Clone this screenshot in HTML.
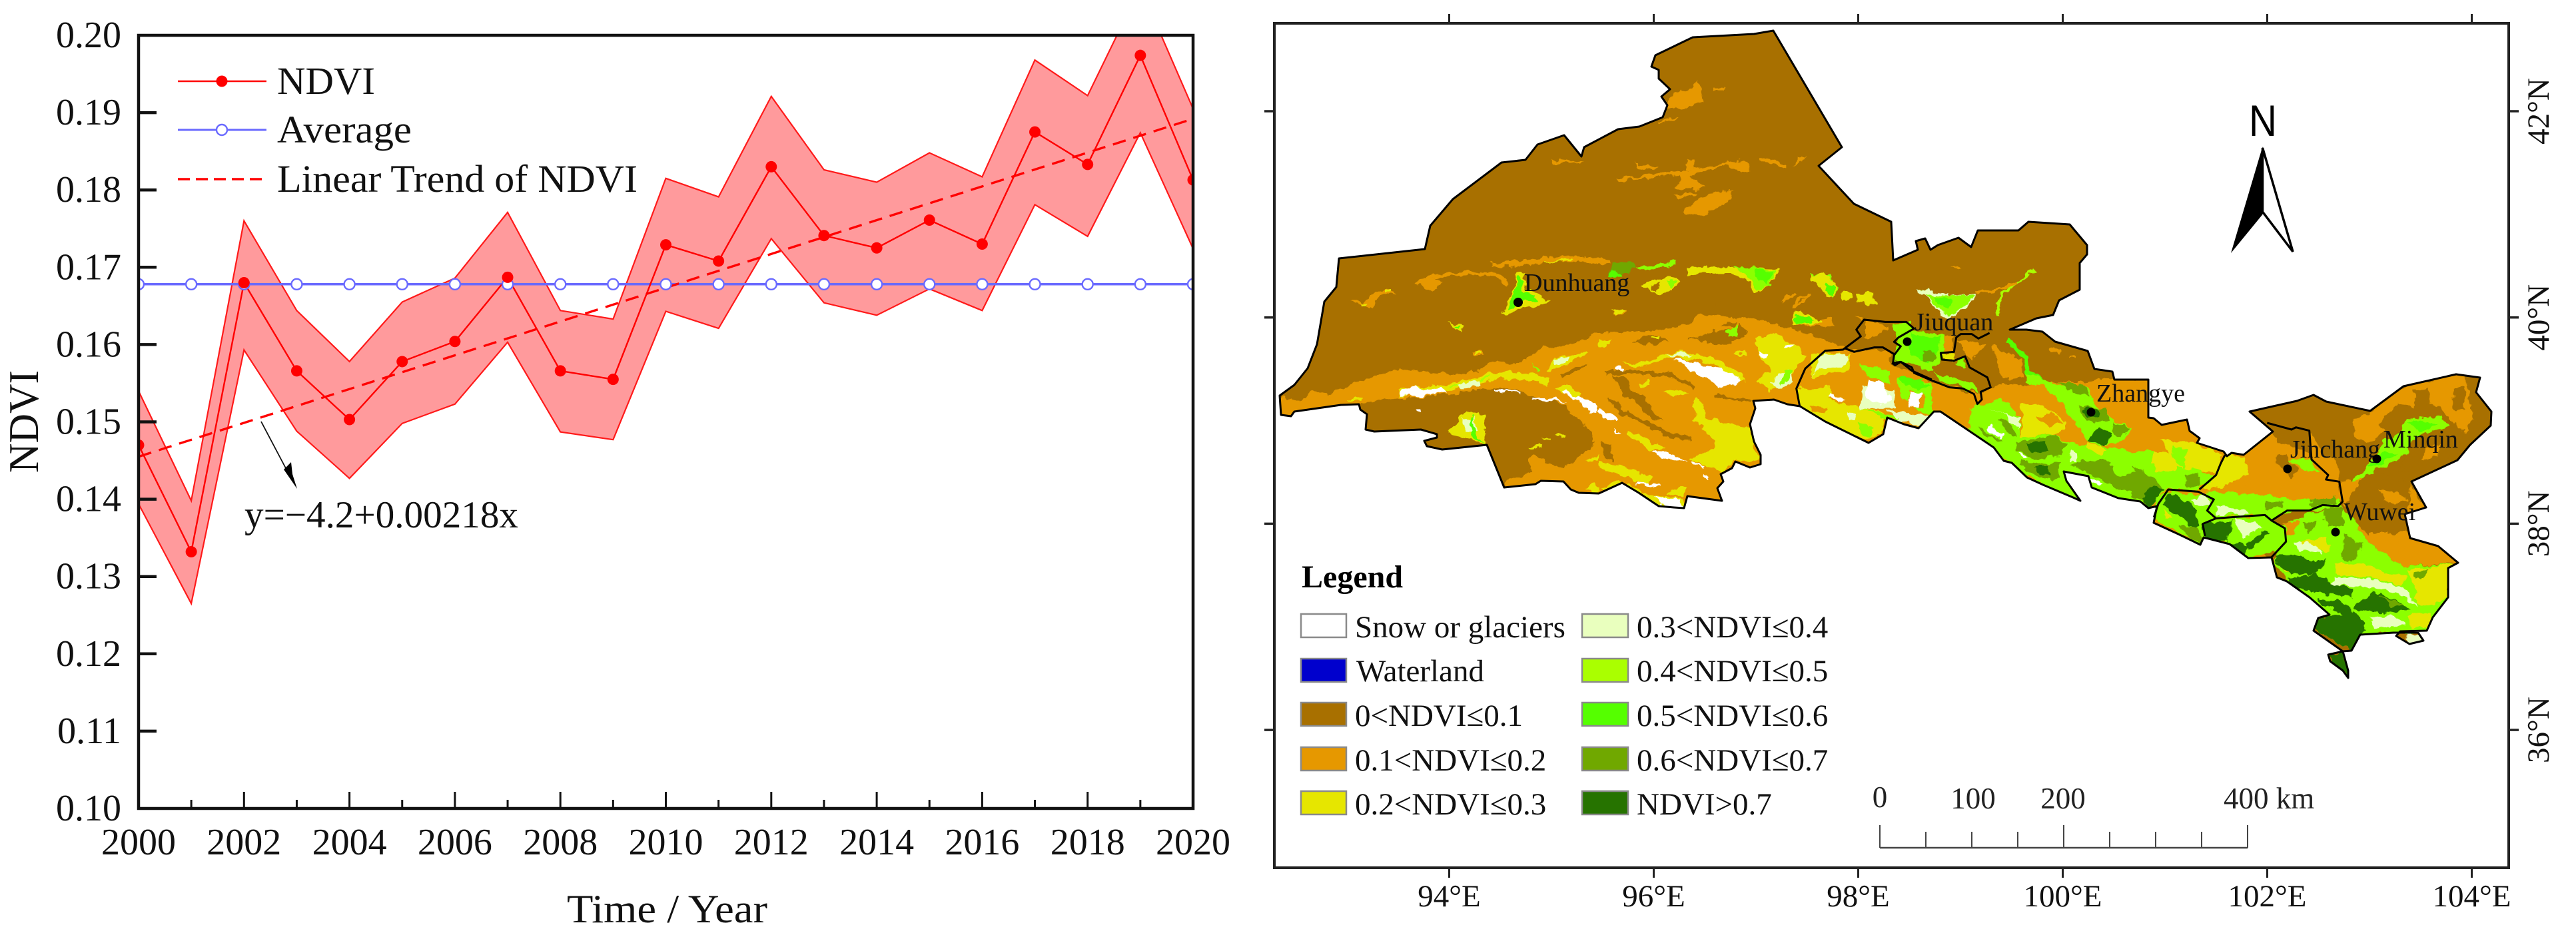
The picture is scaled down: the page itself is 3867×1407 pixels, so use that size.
<!DOCTYPE html>
<html lang="en">
<head>
<meta charset="utf-8">
<title>NDVI trend and map</title>
<style>
html,body{margin:0;padding:0;background:#fff;}
svg{display:block;}
text{font-family:"Liberation Serif",serif;fill:#111;}
.o{fill:#e69800}.b{fill:#a87000}.y{fill:#e6e600}.l{fill:#e9ffbe}.a{fill:#8cff00}.g{fill:#55ff00}.v{fill:#70a800}.d{fill:#267300}.w{fill:#fff}
.sb{fill:none;stroke:#a87000}.so{fill:none;stroke:#e69800}.sa{fill:none;stroke:#aaff00}.sy{fill:none;stroke:#e6e600}.sg{fill:none;stroke:#55ff00}
.bl{fill:none;stroke:#000;stroke-width:9;stroke-linejoin:round}
.mt{font-size:47px}
.lg{font-size:47px}
.city{font-size:38px}
.sc{font-size:45px;fill:#222}
</style>
</head>
<body>
<svg id="root" xmlns="http://www.w3.org/2000/svg" width="3867" height="1407" viewBox="0 0 3867 1407">
<defs>
<polygon id="region-outline" points="1921,594 1943,578 1963,553 1977,517 1988,453 2006,431 2010,388 2139,374 2147,339 2181,299 2254,244 2290,240 2308,217 2348,203 2374,235 2378,221 2429,194 2461,190 2496,176 2503,158 2494,145 2507,134 2490,118 2490,105 2479,100 2485,83 2541,56 2633,51 2662,46 2765,221 2730,249 2783,306 2839,333 2842,391 2879,375 2876,362 2890,358 2898,375 2909,368 2940,357 2959,371 2969,346 3030,346 3045,333 3107,337 3133,368 3133,382 3122,395 3122,435 3091,451 3082,473 3057,478 3017,495 3042,495 3066,498 3085,513 3134,527 3144,554 3171,558 3174,570 3225,570 3225,627 3233,628 3245,638 3283,630 3287,647 3302,658 3298,665 3338,678 3343,685 3350,680 3368,683 3412,648 3377,618 3448,602 3473,593 3492,603 3558,617 3608,580 3687,562 3723,567 3717,589 3740,618 3739,639 3708,668 3689,691 3620,723 3642,762 3610,772 3618,808 3660,820 3690,845 3675,853 3675,897 3652,927 3643,947 3603,948 3597,955 3617,967 3638,962 3630,950 3593,950 3543,953 3530,977 3517,978 3525,1007 3525,1018 3517,1007 3498,993 3495,983 3517,978 3473,947 3480,928 3497,923 3467,897 3433,873 3418,867 3410,837 3375,838 3347,817 3308,807 3303,818 3270,802 3233,785 3238,760 3225,763 3213,753 3180,748 3140,732 3135,715 3098,708 3102,722 3123,752 3112,747 3067,728 3043,717 3020,695 3008,692 2993,672 2953,645 2913,618 2903,618 2880,643 2858,637 2833,627 2827,652 2805,665 2740,633 2702,610 2683,607 2663,600 2632,602 2635,613 2627,637 2633,663 2643,683 2643,697 2627,702 2605,693 2600,703 2583,712 2587,723 2578,733 2585,752 2533,745 2528,763 2513,762 2490,760 2460,740 2435,725 2400,741 2370,740 2358,735 2347,723 2313,722 2305,727 2258,732 2232,668 2165,675 2142,670 2138,662 2157,657 2157,652 2133,645 2063,648 2050,645 2052,622 2042,615 2040,607 2013,608 1943,618 1938,625 1923,623"/>
<clipPath id="outline-clip"><use href="#region-outline"/></clipPath>
<clipPath id="plot-clip"><rect x="208" y="53" width="1583" height="1161"/></clipPath>
<filter id="rough" filterUnits="userSpaceOnUse" x="1900" y="0" width="1900" height="1100" color-interpolation-filters="sRGB">
<feTurbulence type="fractalNoise" baseFrequency="0.07" numOctaves="3" seed="4" result="n"/>
<feDisplacementMap in="SourceGraphic" in2="n" scale="13" xChannelSelector="R" yChannelSelector="G"/>
</filter>
</defs>

<!-- LEFT CHART -->
<g id="chart"></g>

<!-- MAP -->
<g>
<use href="#region-outline" fill="#a87000"/>
<g clip-path="url(#outline-clip)">
<g filter="url(#rough)">
<polygon class="o" points="1921,597 1953,602 1970,587 1993,592 2017,583 2043,572 2077,560 2107,555 2133,557 2183,563 2217,557 2247,542 2277,547 2300,533 2317,522 2360,517 2400,500 2447,497 2477,497 2533,488 2553,473 2633,478 2667,488 2690,495 2733,507 2767,522 2800,525 2820,522 2840,533 2837,547 2870,557 2903,573 2933,582 2967,592 2987,583 3003,577 3033,578 3087,573 3133,573 3173,567 3225,570 3300,650 3400,720 3400,1100 1900,1100 1900,700"/>

<g transform="translate(1900,0) scale(.6378,.4464)">
<polygon class="o" points="945,340 960,315 1000,300 1015,270 1025,310 1030,340 985,365 945,360"/>
<polygon class="o" points="1055,295 1085,295 1080,305 1055,305"/>
<polygon class="o" points="925,410 970,390 965,400 930,415"/>
<polygon class="o" points="670,535 745,545 740,550 680,545"/>
<polygon class="o" points="825,600 860,598 980,575 1085,548 1110,540 1140,550 1140,575 1110,580 1085,555 1000,590 1030,625 1010,640 960,630 975,590 860,605 830,610"/>
<polygon class="o" points="990,530 1010,535 1005,570 990,570"/>
<polygon class="o" points="870,545 925,565 915,572 875,560"/>
<polygon class="o" points="1165,530 1225,550 1225,565 1190,555 1165,540"/>
<polygon class="o" points="980,710 1020,670 1075,640 1100,640 1095,670 1050,710 1020,730 990,725"/>
<polygon class="o" points="965,655 1010,650 1005,660 970,665"/>
<polygon class="o" points="1250,530 1270,525 1245,560"/>
<polyline class="so" stroke-width="11" points="355,955 385,935 420,925 500,918 545,925 570,960"/>
<polyline class="so" stroke-width="16" points="530,890 620,885 670,870 730,870 810,880"/>
<polyline class="sy" stroke-width="5" points="650,885 720,870"/>
<polygon class="v" points="805,935 815,885 865,880 870,900 835,925"/>
<polygon class="a" points="870,900 970,880 965,890 890,915"/>
<polygon class="a" points="1285,920 1330,925 1345,970 1335,1000 1310,975 1290,945"/>
<polygon class="y" points="1355,990 1375,990 1365,1010"/>
<polygon class="y" points="1390,985 1425,985 1435,1020 1395,1020"/>
<polygon class="so" stroke-width="6" points="1240,1040 1260,1000 1285,990"/>
<polygon class="o" points="815,1040 850,1040 840,1058 820,1058"/>
<polygon class="o" points="1240,1090 1335,1075 1340,1100 1250,1095"/>
</g>

<g transform="translate(1900,400) scale(.33333)">
<polygon class="b" points="430,620 520,600 600,595 700,590 850,570 1000,548 1100,550 1200,580 1340,625 1400,680 1450,730 1490,790 1450,830 1390,870 1340,915 1280,880 1200,850 1180,860 1200,930 1150,955 1090,960 1075,1010 1000,900 700,900 400,800"/>
<polygon class="y" points="1065,215 1090,150 1125,100 1135,30 1160,30 1170,110 1225,120 1260,150 1290,155 1230,175 1160,180 1130,200 1085,215"/>
<polygon class="g" points="1085,190 1100,150 1130,105 1140,50 1155,50 1160,120 1210,130 1230,155 1150,165 1120,185"/>
<polygon class="o" points="380,155 440,165 500,110 550,95 590,125 530,120 470,180 400,170"/>
<polygon class="y" points="430,165 460,170 450,180 430,178"/>
<polygon class="y" points="540,100 565,100 565,115 540,112"/>
<polygon class="o" points="680,70 760,55 800,70 740,110 700,90"/>
<polygon class="y" points="820,255 890,265 885,300 860,280"/>
<polygon class="g" points="855,270 875,268 875,285"/>
<polygon class="o" points="930,390 965,380 985,405 945,405"/>
<polygon class="y" points="945,385 965,385 965,400 945,398"/>
<polygon class="y" points="370,605 430,590 430,605 375,612"/>
<polyline class="sy" stroke-width="32" points="600,570 700,560 820,545 900,530 1000,500 1100,490 1200,500 1270,520"/>
<polyline class="sa" stroke-width="9" points="830,540 930,525 1010,495"/>
<polygon class="l" points="860,535 950,510 960,535 880,555"/>
<polygon class="w" points="600,565 660,545 720,555 800,545 815,570 770,575 730,580 690,585 610,580"/>
<polygon class="w" points="1030,555 1100,555 1145,570 1150,580 1095,565 1030,560"/>
<polygon class="w" points="1200,590 1300,595 1350,615 1300,610 1200,600"/>
<polygon class="y" points="1290,540 1360,535 1420,570 1400,590 1340,570"/>
<polygon class="w" points="1340,560 1420,590 1490,620 1500,670 1470,660 1420,610 1350,575"/>
<polygon class="w" points="675,645 695,645 695,655 675,655"/>
<polygon class="y" points="820,750 905,650 990,680 985,800 880,770"/>
<polygon class="l" points="890,690 940,680 960,750 900,745"/>
<polygon class="g" points="920,670 935,670 950,770 985,795 930,775"/>
<polygon class="y" points="1180,820 1240,805 1245,815 1190,830"/>
<polygon class="y" points="1240,775 1285,780 1280,790 1240,785"/>
<polygon class="y" points="1310,755 1350,755 1345,770 1315,765"/>
<polygon class="y" points="1440,870 1500,850 1500,870 1450,880"/>
<polygon class="y" points="1260,470 1300,420 1440,385 1450,395 1340,450 1280,475"/>
<polygon class="l" points="1300,425 1370,405 1360,430 1300,445"/>
<polygon class="a" points="1200,430 1240,470 1225,470"/>
<polygon class="y" points="1440,1000 1480,975 1500,1010 1480,1020"/>
<polygon class="b" points="1330,490 1450,430 1440,450 1340,505"/>
</g>

<g transform="translate(2400,400) scale(.33333)">
<polygon class="y" points="400,0 820,10 760,100 700,120 680,70 600,30 470,30 400,40"/>
<polygon class="a" points="600,0 800,15 770,90 720,110 690,60"/>
<polygon class="g" points="700,15 790,20 760,85 720,60"/>
<polygon class="b" points="420,50 470,30 600,30 680,70 700,125 500,170 400,140"/>
<polygon class="v" points="50,40 70,0 160,0 130,25"/>
<polygon class="g" points="40,50 60,10 110,40 70,50"/>
<polygon class="y" points="190,80 250,60 330,50 360,70 330,110 270,125 210,100"/>
<polygon class="b" points="230,85 280,75 265,110 235,105"/>
<polygon class="a" points="310,70 345,70 330,100"/>
<polygon class="y" points="875,210 900,200 990,240 1000,255 930,265 875,265"/>
<polygon class="g" points="880,225 905,215 975,245 930,260 880,260"/>
<polygon class="o" points="820,155 880,115 890,125 830,165"/>
<polygon class="o" points="1150,230 1190,225 1185,250"/>
<polygon class="y" points="1100,120 1130,120 1140,150 1100,155"/>
<polygon class="y" points="1170,120 1230,120 1250,170 1200,170 1170,140"/>
<polygon class="g" points="1215,140 1240,145 1240,165 1222,165"/>
<polygon class="y" points="960,40 1010,30 1070,70 1060,130 1030,140 990,90 960,60"/>
<polygon class="g" points="1020,80 1060,80 1050,130 1020,110"/>
<polygon class="a" points="1430,105 1500,110 1500,170 1470,140"/>
<polygon class="y" points="60,190 120,195 100,215 70,215"/>

<polygon class="b" points="160,340 230,310 290,320 320,330 260,350 190,350"/>
<polygon class="b" points="400,320 490,310 520,290 620,290 630,260 670,290 640,320 580,350 490,350 440,320 400,325"/>
<polygon class="b" points="550,265 620,250 600,280"/>
<polygon class="a" points="570,300 620,265 625,315 590,315"/>
<polygon class="y" points="235,320 275,318 270,330 240,330"/>
<polygon class="y" points="0,335 60,330 50,355 0,355"/>
<polyline class="sb" stroke-width="18" points="30,480 130,475 330,490 430,550"/>
<polygon class="b" points="60,490 130,500 140,570 200,580 230,640 290,700 240,690 160,600 110,590 90,540"/>
<polyline class="sb" stroke-width="20" points="40,600 120,660 220,710 310,760 420,775"/>
<polyline class="sb" stroke-width="14" points="520,580 690,610"/>
<polygon class="b" points="10,790 60,800 60,880 20,860"/>

<polygon class="y" points="430,590 470,620 480,680 560,700 680,730 700,810 730,860 690,890 610,870 560,930 490,900 420,880 410,870 530,820 500,760 430,690"/>
<polygon class="y" points="100,430 170,440 300,400 390,380 480,410 560,430 640,480 660,520 620,510 520,440 420,420 340,410 230,440 160,460"/>
<polygon class="l" points="300,405 390,385 430,400 340,410"/>
<polygon class="w" points="340,420 400,420 470,450 530,450 640,510 620,530 550,540 540,550 480,500 400,460"/>
<polygon class="y" points="710,320 780,300 900,370 940,400 880,470 830,540 760,560 700,510 780,470 720,400"/>
<polygon class="l" points="770,520 860,460 880,520 800,550"/>
<polygon class="a" points="830,470 870,460 860,510 820,530"/>
<polygon class="w" points="720,385 770,390 760,410 725,405"/>
<polygon class="w" points="840,355 880,360 870,375 840,370"/>
<polygon class="y" points="290,560 380,560 400,575 320,580"/>
<polygon class="y" points="180,520 230,515 220,535 190,535"/>
<polygon class="y" points="620,380 660,380 675,400 640,410 610,400"/>
<polygon class="o" points="632,388 655,390 650,400 635,398"/>
<polygon class="w" points="70,455 105,455 105,470 70,465"/>
<polygon class="w" points="0,640 30,650 90,690 85,705 40,690 0,660"/>
<polygon class="w" points="70,735 100,745 95,750 70,745"/>
<polygon class="y" points="130,740 190,760 300,820 230,830 130,760"/>
<polygon class="y" points="0,880 100,900 170,930 240,950 220,990 130,950 30,910 0,900"/>
<polygon class="w" points="240,830 310,835 370,870 400,875 340,880 260,850"/>
<polygon class="w" points="415,880 480,905 470,910 410,885"/>
<polygon class="w" points="470,935 500,945 500,960 470,950"/>
<polygon class="w" points="170,975 270,980 270,990 170,985"/>
<polygon class="y" points="360,990 400,1000 380,1030 310,1030"/>
<polygon class="y" points="0,1000 100,970 250,1040 380,1040 390,1090 270,1080"/>
<polygon class="w" points="250,1045 370,1045 385,1085 280,1075"/>

<polygon class="y" points="890,550 1100,620 1200,640 1290,660 1280,740 1210,790 1010,700 900,630"/>
<polygon class="o" points="950,630 1030,640 1020,660 960,650"/>
<polygon class="l" points="1120,655 1160,660 1155,690 1125,690"/>
<polygon class="a" points="1170,710 1240,730 1220,780 1180,750"/>
<polygon class="y" points="960,400 1010,385 1140,400 1130,470 1060,480 970,500 945,480"/>
<polygon class="l" points="1010,390 1130,400 1130,430 1060,450 970,470 950,500"/>
<polygon class="y" points="920,560 1030,540 1060,590 1000,610"/>
<polygon class="a" points="1170,430 1300,470 1320,530 1280,530 1220,490 1170,450"/>
<polygon class="l" points="1180,540 1330,560 1340,640 1180,640"/>
<polygon class="w" points="1220,510 1280,530 1320,600 1270,620 1200,590"/>
<polygon class="w" points="1040,575 1110,600 1090,610 1040,590"/>
<polygon class="a" points="1340,500 1500,520 1500,660 1470,660 1370,600"/>
<polygon class="g" points="1350,500 1450,510 1500,540 1440,550 1380,540"/>
<polygon class="o" points="1400,560 1470,590 1460,640 1390,620"/>
<polygon class="w" points="1400,570 1450,570 1440,630 1390,640"/>
<polygon class="l" points="1300,650 1500,670 1440,720 1360,700"/>
<polygon class="a" points="1180,640 1310,670 1360,680 1290,690"/>
</g>

<g transform="translate(2800,400) scale(.33333)">
<polygon class="y" points="0,115 30,115 50,165 15,165 0,150"/>
<polygon class="l" points="225,105 300,110 380,130 500,125 440,200 360,235 270,140"/>
<polygon class="a" points="270,135 350,130 490,130 430,195 365,225"/>
<polygon class="g" points="310,140 400,140 380,200 350,190"/>
<polyline class="sa" stroke-width="12" points="595,220 605,140 650,90 770,15"/>
<polyline class="so" stroke-width="12" points="500,120 600,105 680,70"/>
<polygon class="o" points="380,0 430,10 410,25"/>
<polygon class="o" points="0,245 110,270 60,310 0,320"/>
<polygon class="a" points="130,260 200,250 220,290 360,310 350,390 330,440 310,470 260,470 210,440 130,430 140,330"/>
<polygon class="g" points="200,300 340,320 330,380 280,440 200,390"/>
<polygon class="v" points="260,380 310,385 310,430 260,430"/>
<polygon class="o" points="360,315 400,320 395,380 350,390"/>
<polygon class="y" points="340,390 400,390 405,425 345,420"/>
<polygon class="o" points="420,330 540,350 480,420 430,380"/>
<polygon class="o" points="580,360 700,420 710,500 620,510 600,450"/>
<polygon class="a" points="400,430 450,410 455,465 420,465"/>
<polygon class="b" points="310,445 400,435 460,470 550,500 565,545 490,520 400,500 320,470"/>
<polygon class="a" points="310,475 400,505 490,530 510,575 430,540 340,520"/>
<polyline class="sg" stroke-width="25" points="640,330 720,410 730,480 780,510 870,560 1000,600"/>
<polygon class="o" points="830,370 880,375 880,385 835,385"/>
<polygon class="o" points="905,405 945,400 945,412 905,412"/>
<polygon class="a" points="720,480 850,530 990,530 1040,620 1100,680 1200,730 1170,770 1090,800 1050,810 1000,780 940,700 890,620 820,550 730,520"/>
<polygon class="v" points="870,520 990,530 1010,590 950,570"/>
<polygon class="v" points="960,630 1080,640 1100,700 1000,700"/>
<polygon class="d" points="985,640 1050,640 1055,680 1000,680"/>
<polygon class="v" points="1120,700 1190,730 1150,770 1110,750"/>
<polygon class="d" points="1000,780 1060,730 1110,760 1080,810"/>
<polygon class="y" points="700,620 760,610 850,660 900,700 900,740 850,760 700,770"/>
<polygon class="o" points="770,680 840,660 890,700 830,720"/>
<polygon class="a" points="470,640 620,590 690,680 700,770 860,760 930,800 1050,810 1200,830 1300,830 1390,890 1500,860 1500,1010 1350,1000 1270,1100 1100,1050 1005,990 900,930 970,1060 800,990 650,890 470,750"/>
<polygon class="y" points="1000,790 1100,830 1060,850 1000,820"/>
<polygon class="y" points="1300,830 1390,850 1400,920 1300,920"/>
<polygon class="y" points="1380,790 1500,830 1500,900 1410,880"/>
<polygon class="g" points="1390,790 1430,820 1440,870 1400,860"/>
<polygon class="v" points="680,800 860,760 910,800 880,850 760,870 680,830"/>
<polygon class="d" points="730,800 810,790 830,830 750,840"/>
<polygon class="v" points="700,880 830,890 880,880 880,960 780,950 700,900"/>
<polygon class="d" points="760,900 830,900 840,940 780,930"/>
<polygon class="v" points="510,720 590,770 620,780 600,790 520,750"/>
<polygon class="v" points="600,690 660,700 680,770 640,760"/>
<polygon class="v" points="920,890 1050,870 1200,900 1300,960 1340,1000 1280,1090 1230,1040 1100,980 1000,930"/>
<polygon class="d" points="1280,990 1340,1000 1280,1090 1250,1050"/>
<polygon class="a" points="1100,880 1180,860 1220,930 1150,950"/>
<polygon class="l" points="540,640 690,680 690,730 620,660"/>
<polygon class="l" points="930,830 960,840 960,880 920,870"/>
<polygon class="w" points="560,710 620,760 610,775 550,730"/>
<polygon class="w" points="1010,950 1030,960 1070,980 1040,990"/>
<polygon class="w" points="690,840 730,860 710,870"/>
<polygon class="v" points="1450,940 1500,940 1500,1000 1460,990"/>
<polygon class="l" points="1380,960 1420,950 1420,1000 1370,1000"/>
</g>

<g transform="translate(3200,550) scale(.33333)">
<polygon class="y" points="130,330 300,350 410,400 380,480 280,470 200,450"/>
<polygon class="a" points="180,350 250,380 240,460 190,430"/>
<polygon class="a" points="180,480 300,470 400,510 300,550 170,550"/>
<polygon class="v" points="240,490 310,490 310,540 250,540"/>
<polygon class="o" points="420,395 600,300 640,300 810,300 930,500 940,600 700,620 550,590"/>
<polygon class="b" points="610,260 800,295 810,400 660,340"/>
<polygon class="b" points="650,400 700,400 750,480 710,500 650,440"/>
<polygon class="a" points="710,420 800,410 840,480 760,470"/>
<polygon class="y" points="430,400 510,410 530,470 500,510 400,540 320,560 380,480"/>
<polygon class="a" points="340,560 600,580 700,600 940,600 940,630 800,650 720,650 620,690 540,670 370,680 340,650"/>
<polygon class="l" points="380,630 500,640 520,665 380,665"/>
<polygon class="v" points="600,610 680,610 680,640 600,640"/>
<polygon class="v" points="810,600 920,590 920,620 810,630"/>

<polygon class="o" points="1000,240 1080,200 1225,90 1500,30 1540,240 1500,300 1440,240 1370,180 1280,120 1270,180 1190,170 1130,240 1100,290 1000,290"/>
<polygon class="b" points="1270,110 1340,100 1350,160 1290,170"/>
<polygon class="b" points="1450,100 1500,90 1500,200 1450,200"/>
<polygon class="o" points="1010,250 1090,220 1130,290 1060,350 1000,320"/>
<polygon class="o" points="810,420 920,410 930,500 880,490 840,440"/>
<polygon class="b" points="1260,340 1500,280 1480,380 1270,510 1210,470"/>
<polygon class="o" points="1320,370 1400,350 1360,420 1300,430"/>
<polygon class="a" points="1050,460 1100,400 1140,340 1220,290 1240,240 1390,225 1440,270 1360,290 1260,330 1240,400 1170,440 1090,470 1060,490 990,560 960,610 940,560"/>
<polygon class="g" points="1250,250 1320,240 1380,260 1300,300"/>
<polygon class="g" points="1060,450 1140,390 1200,390 1100,455"/>
<polygon class="o" points="940,520 1000,520 1040,510 990,580 960,620 935,600"/>

<polygon class="a" points="640,870 680,720 800,660 950,630 1020,720 1060,790 1140,850 1230,905 1450,890 1420,1040 1340,1190 1030,1210 990,1280 830,1190 890,1120 700,970"/>
<polygon class="o" points="1020,720 1240,740 1260,780 1380,810 1470,885 1230,905 1140,850 1060,790"/>
<polygon class="b" points="1000,620 1040,510 1110,480 1260,520 1320,630 1240,660 1240,750 1050,750 1020,690"/>
<polygon class="o" points="1120,560 1200,570 1240,610 1170,620 1130,600"/>
<polygon class="o" points="1260,530 1310,640 1250,660 1250,590"/>
<polygon class="o" points="680,710 750,700 740,750 690,760"/>
<polygon class="y" points="760,790 880,770 890,830 800,830"/>
<polygon class="y" points="920,880 1050,900 1240,950 1220,990 1080,950 920,940"/>
<polygon class="y" points="1240,920 1450,890 1420,1040 1370,1080 1280,1060 1280,1000"/>
<polygon class="v" points="1270,930 1340,910 1320,960 1280,960"/>
<polygon class="y" points="1250,1120 1340,1110 1340,1180 1260,1170"/>
<polygon class="y" points="680,890 740,880 720,930 690,930"/>
<polygon class="l" points="920,950 1100,960 1230,1000 1290,1080 1200,1020 1060,990 900,980"/>
<polygon class="l" points="1070,1130 1180,1120 1230,1170 1100,1180"/>
<polygon class="l" points="730,790 830,800 860,840 760,830"/>
<polygon class="d" points="640,850 730,850 820,880 880,870 840,930 720,940 650,880"/>
<polygon class="d" points="700,960 830,930 890,970 1000,1000 1000,1040 870,1030 760,1000"/>
<polygon class="d" points="1000,1080 1090,1020 1200,1060 1260,1100 1150,1110 1000,1100"/>
<polygon class="d" points="830,1140 900,1120 950,1120 830,1050 950,1060 1060,1160 1030,1210 990,1280 830,1190"/>
<polygon class="v" points="1120,1040 1220,1070 1170,1080"/>
<polygon class="v" points="860,640 950,630 950,720 880,720"/>
<polygon class="v" points="950,760 1040,800 1000,880 950,870"/>
<polygon class="v" points="770,700 840,700 820,740 790,750"/>
<polygon class="l" points="1230,1190 1290,1210 1310,1240 1250,1250"/>

<polygon class="a" points="110,590 180,560 360,590 370,690 320,810 100,690"/>
<polygon class="d" points="130,620 170,570 260,610 310,720 290,740 230,690"/>
<polygon class="v" points="220,720 300,730 320,800 250,770"/>
<polygon class="l" points="270,600 330,580 360,620 300,640"/>
<polygon class="y" points="130,650 190,680 160,690"/>
<polygon class="a" points="320,710 380,685 600,670 690,730 700,790 620,850 520,870 420,790 330,765"/>
<polygon class="d" points="320,705 450,700 430,790 330,770"/>
<polygon class="d" points="510,800 600,740 620,750 530,830"/>
<polygon class="d" points="430,790 520,810 510,865 450,830"/>
<polygon class="l" points="460,690 560,700 590,730 500,770"/>
<polygon class="d" points="885,1300 950,1285 970,1360 975,1405 900,1330"/>
<polygon class="l" points="1240,1210 1300,1220 1300,1240 1255,1250"/>
</g>
</g>
</g>

<!-- internal boundaries -->
<g>
<g transform="translate(2400,400) scale(.33333)">
<polyline class="bl" points="905,630 890,550 930,460 1020,380 1100,375 1180,315 1160,285 1195,240 1290,250 1385,250 1420,280 1350,320 1330,340 1360,360 1330,400 1325,435 1360,430 1410,470 1500,510"/>
<polyline class="bl" points="1110,370 1150,385 1240,365 1280,365 1330,395"/>
</g>
<g transform="translate(2800,400) scale(.33333)">
<polyline class="bl" points="120,435 135,445 160,430 210,455 220,480 290,510 380,545 440,550 490,575 505,620 525,600 520,565 565,545 550,500 470,455 450,405 400,425 345,420 340,390 400,385 410,320 430,305 480,305 510,325 560,300"/>
</g>
<g transform="translate(3200,550) scale(.33333)">
<polyline class="bl" points="305,555 380,490 400,440 420,400"/>
<polyline class="bl" points="100,680 120,620 165,555 300,565 370,600 340,650 380,685 320,710 330,765"/>
<polyline class="bl" points="380,685 520,675 600,670 630,695 700,650 800,650 860,625 930,630 950,610 935,520 875,510 885,490 810,420 800,290 740,275 720,285 610,255"/>
<polyline class="bl" points="630,695 690,730 695,790 630,860"/>
</g>
</g>
<use href="#region-outline" fill="none" stroke="#000" stroke-width="3" stroke-linejoin="round"/>

<!-- map frame -->
<rect x="1913" y="35" width="1853" height="1268" fill="none" stroke="#222" stroke-width="4"/>
<g id="map-ticks"></g>

<!-- cities -->
<g>
<circle cx="2279" cy="454" r="7" fill="#000"/>
<text class="city" x="2288" y="437">Dunhuang</text>
<circle cx="2863" cy="513" r="6.5" fill="#000"/>
<text class="city" x="2874" y="496">Jiuquan</text>
<circle cx="3139" cy="619" r="6.5" fill="#000"/>
<text class="city" x="3147" y="603">Zhangye</text>
<circle cx="3434" cy="704" r="6.5" fill="#000"/>
<text class="city" x="3438" y="687">Jinchang</text>
<circle cx="3568" cy="689" r="6.5" fill="#000"/>
<text class="city" x="3578" y="672">Minqin</text>
<circle cx="3506" cy="799" r="6.5" fill="#000"/>
<text class="city" x="3518" y="781">Wuwei</text>
</g>

<!-- north arrow -->
<g>
<text x="3397" y="204" text-anchor="middle" font-size="66" textLength="42" lengthAdjust="spacingAndGlyphs" style="font-family:'Liberation Sans',sans-serif;fill:#000">N</text>
<polygon points="3396.5,220 3349,380 3396.5,322" fill="#000"/>
<polygon points="3396.5,222 3442,378 3396.5,318" fill="#fff" stroke="#000" stroke-width="3.5"/>
</g>

<!-- legend -->
<g>
<text x="1954" y="882" font-size="48" font-weight="bold" style="fill:#000">Legend</text>
<g stroke="#8a8a8a" stroke-width="2.5">
<rect x="1953" y="922" width="68" height="35" fill="#ffffff"/>
<rect x="1953" y="989" width="68" height="35" fill="#0000cd"/>
<rect x="1953" y="1055" width="68" height="35" fill="#a87000"/>
<rect x="1953" y="1122" width="68" height="35" fill="#e69800"/>
<rect x="1953" y="1188" width="68" height="35" fill="#e6e600"/>
<rect x="2375" y="922" width="69" height="35" fill="#e9ffbe"/>
<rect x="2375" y="989" width="69" height="35" fill="#aaff00"/>
<rect x="2375" y="1055" width="69" height="35" fill="#55ff00"/>
<rect x="2375" y="1122" width="69" height="35" fill="#70a800"/>
<rect x="2375" y="1188" width="69" height="35" fill="#267300"/>
</g>
<text class="lg" x="2034" y="957">Snow or glaciers</text>
<text class="lg" x="2036" y="1023">Waterland</text>
<text class="lg" x="2034" y="1090">0&lt;NDVI≤0.1</text>
<text class="lg" x="2034" y="1157">0.1&lt;NDVI≤0.2</text>
<text class="lg" x="2034" y="1223">0.2&lt;NDVI≤0.3</text>
<text class="lg" x="2457" y="957">0.3&lt;NDVI≤0.4</text>
<text class="lg" x="2457" y="1023">0.4&lt;NDVI≤0.5</text>
<text class="lg" x="2457" y="1090">0.5&lt;NDVI≤0.6</text>
<text class="lg" x="2457" y="1157">0.6&lt;NDVI≤0.7</text>
<text class="lg" x="2457" y="1223">NDVI&gt;0.7</text>
</g>

<!-- scale bar -->
<g id="scale-bar">
<text class="sc" x="2822" y="1212" text-anchor="middle">0</text>
<text class="sc" x="2962" y="1214" text-anchor="middle">100</text>
<text class="sc" x="3097" y="1214" text-anchor="middle">200</text>
<text class="sc" x="3338" y="1214">400 km</text>
</g>
</g>

<script>
// ---- chart data ----
const years = [2000,2001,2002,2003,2004,2005,2006,2007,2008,2009,2010,2011,2012,2013,2014,2015,2016,2017,2018,2019,2020];
const ndvi = [0.147,0.1332,0.168,0.1566,0.1503,0.1578,0.1604,0.1687,0.1566,0.1555,0.1729,0.1708,0.183,0.1741,0.1725,0.1761,0.173,0.1875,0.1833,0.1974,0.1813];
const upperBand = [0.154,0.1398,0.176,0.1644,0.1578,0.1655,0.1686,0.1771,0.1644,0.1633,0.1815,0.1791,0.1921,0.1826,0.181,0.1848,0.1817,0.1968,0.1922,0.2062,0.1905];
const lowerBand = [0.1394,0.1265,0.1593,0.1488,0.1427,0.1498,0.1523,0.1603,0.1487,0.1477,0.1643,0.1621,0.1737,0.1654,0.1638,0.1672,0.1644,0.1781,0.174,0.1874,0.1724];
const average = [0.1678,0.1678,0.1678,0.1678,0.1678,0.1678,0.1678,0.1678,0.1678,0.1678,0.1678,0.1678,0.1678,0.1678,0.1678,0.1678,0.1678,0.1678,0.1678,0.1678,0.1678];
const trendYears = [2000,2020];
const trendValues = [0.1455,0.1892];
const yTicks = [0.10,0.11,0.12,0.13,0.14,0.15,0.16,0.17,0.18,0.19,0.20];
const xMajorTicks = [2000,2002,2004,2006,2008,2010,2012,2014,2016,2018,2020];
const xMinorTicks = [2001,2003,2005,2007,2009,2011,2013,2015,2017,2019];
// ---- map furniture data ----
const lonTicks = [94,96,98,100,102,104];
const latTicks = [42,40,38,36];
const scaleKm = [0,50,100,150,200,250,300,350,400];

const NS = 'http://www.w3.org/2000/svg';
function mk(parent, tag, attrs, txt) {
  const e = document.createElementNS(NS, tag);
  for (const k in attrs) e.setAttribute(k, attrs[k]);
  if (txt !== undefined) e.textContent = txt;
  parent.appendChild(e);
  return e;
}
const x = v => 208 + (v - 2000) * (1791 - 208) / 20;
const y = v => 1214 - (v - 0.1) * (1161 / 0.1);
const pts = (xs, ys) => xs.map((d, i) => x(d).toFixed(1) + ',' + y(ys[i]).toFixed(1)).join(' ');
const chart = document.getElementById('chart');

const plot = mk(chart, 'g', {'clip-path': 'url(#plot-clip)'});



const band = mk(plot, 'polygon', {points: pts(years, upperBand) + ' ' + pts(years.slice().reverse(), lowerBand.slice().reverse()), fill: '#ff9a9c', stroke: 'none'});


const upperEdge = mk(plot, 'polyline', {points: pts(years, upperBand), fill: 'none', stroke: '#ff1a1a', 'stroke-width': 2.2});


const lowerEdge = mk(plot, 'polyline', {points: pts(years, lowerBand), fill: 'none', stroke: '#ff1a1a', 'stroke-width': 2.2});



const avgLine = mk(plot, 'polyline', {points: pts(years, average), fill: 'none', stroke: '#6a6aff', 'stroke-width': 3.5});


const trendLine = mk(plot, 'polyline', {points: pts(trendYears, trendValues), fill: 'none', stroke: '#ff0000', 'stroke-width': 3.4, 'stroke-dasharray': '20 12'});


const ndviLine = mk(plot, 'polyline', {points: pts(years, ndvi), fill: 'none', stroke: '#ff0000', 'stroke-width': 2.4});



years.forEach((yr, i) => {
  const a = mk(plot, 'circle', {cx: x(yr), cy: y(average[i]), r: 8, fill: '#fff', stroke: '#6a6aff', 'stroke-width': 2.4});
  
  
});
years.forEach((yr, i) => {
  const p = mk(plot, 'circle', {cx: x(yr), cy: y(ndvi[i]), r: 8.5, fill: '#ff0000'});
  
  
});

// axes
const frame = mk(chart, 'rect', {x: 208, y: 53, width: 1583, height: 1161, fill: 'none', stroke: '#111', 'stroke-width': 4.5});



yTicks.forEach(v => {
  if (v > 0.1 && v < 0.2) {
    const t = mk(chart, 'line', {x1: 208, x2: 235, y1: y(v), y2: y(v), stroke: '#111', 'stroke-width': 4.5});
    
    
  }
  const l = mk(chart, 'text', {x: 182, y: y(v) + 18, 'text-anchor': 'end', 'font-size': 56}, v.toFixed(2));
  
  
});
xMajorTicks.forEach(v => {
  const t = mk(chart, 'line', {x1: x(v), x2: x(v), y1: 1214, y2: 1189, stroke: '#111', 'stroke-width': 3});
  
  
  const l = mk(chart, 'text', {x: x(v), y: 1283, 'text-anchor': 'middle', 'font-size': 56}, String(v));
  
  
});
xMinorTicks.forEach(v => {
  const t = mk(chart, 'line', {x1: x(v), x2: x(v), y1: 1214, y2: 1201, stroke: '#111', 'stroke-width': 3});
  
  
});

const xTitle = mk(chart, 'text', {x: 851, y: 1385, 'font-size': 60, textLength: 301, lengthAdjust: 'spacingAndGlyphs'}, 'Time / Year');


const yTitle = mk(chart, 'text', {x: 0, y: 0, 'font-size': 64, textLength: 154, lengthAdjust: 'spacingAndGlyphs', 'text-anchor': 'middle', transform: 'translate(57,633) rotate(-90)'}, 'NDVI');



// chart legend
const lgLine1 = mk(chart, 'line', {x1: 267, x2: 400, y1: 122, y2: 122, stroke: '#ff0000', 'stroke-width': 2.4});


const lgDot1 = mk(chart, 'circle', {cx: 333, cy: 122, r: 8.5, fill: '#ff0000'});


const lgText1 = mk(chart, 'text', {x: 416, y: 141, 'font-size': 58, textLength: 147, lengthAdjust: 'spacingAndGlyphs'}, 'NDVI');


const lgLine2 = mk(chart, 'line', {x1: 267, x2: 400, y1: 195, y2: 195, stroke: '#6a6aff', 'stroke-width': 3});


const lgDot2 = mk(chart, 'circle', {cx: 333, cy: 195, r: 8, fill: '#fff', stroke: '#6a6aff', 'stroke-width': 2.4});


const lgText2 = mk(chart, 'text', {x: 416, y: 214, 'font-size': 58, textLength: 202, lengthAdjust: 'spacingAndGlyphs'}, 'Average');


const lgLine3 = mk(chart, 'line', {x1: 267, x2: 400, y1: 269, y2: 269, stroke: '#ff0000', 'stroke-width': 3.4, 'stroke-dasharray': '18 9'});


const lgText3 = mk(chart, 'text', {x: 416, y: 288, 'font-size': 58, textLength: 541, lengthAdjust: 'spacingAndGlyphs'}, 'Linear Trend of NDVI');



// annotation
const annLine = mk(chart, 'line', {x1: 392, y1: 633, x2: 430, y2: 705, stroke: '#111', 'stroke-width': 1.8});


const annHead = mk(chart, 'polygon', {points: '446,734 426,705 437,694 439,712', fill: '#000'});


const eq = mk(chart, 'text', {x: 367, y: 792, 'font-size': 57, textLength: 411, lengthAdjust: 'spacingAndGlyphs'}, 'y=\u22124.2+0.00218x');



// map ticks & labels
const mapTicks = document.getElementById('map-ticks');
const lonX = v => 2175.5 + (v - 94) * 307 / 2;
const latY = v => 167 + (42 - v) * 309.7 / 2;
lonTicks.forEach(v => {
  const t1 = mk(mapTicks, 'line', {x1: lonX(v), x2: lonX(v), y1: 35, y2: 21, stroke: '#222', 'stroke-width': 3});
  
  
  const t2 = mk(mapTicks, 'line', {x1: lonX(v), x2: lonX(v), y1: 1303, y2: 1318, stroke: '#222', 'stroke-width': 3});
  
  
  const l = mk(mapTicks, 'text', {x: lonX(v), y: 1361, 'text-anchor': 'middle', class: 'mt'}, v + '\u00B0E');
  
  
});
latTicks.forEach(v => {
  const t1 = mk(mapTicks, 'line', {x1: 1913, x2: 1898, y1: latY(v), y2: latY(v), stroke: '#222', 'stroke-width': 3.5});
  
  
  const t2 = mk(mapTicks, 'line', {x1: 3766, x2: 3781, y1: latY(v), y2: latY(v), stroke: '#222', 'stroke-width': 3.5});
  
  
  const l = mk(mapTicks, 'text', {x: 0, y: 0, 'text-anchor': 'middle', class: 'mt', transform: 'translate(3826,' + latY(v) + ') rotate(-90)'}, v + '\u00B0N');
  
  
});

// scale bar
const sb = document.getElementById('scale-bar');
const kmX = v => 2822 + v * (3374 - 2822) / 400;
const base = mk(sb, 'line', {x1: kmX(0), x2: kmX(400), y1: 1273, y2: 1273, stroke: '#444', 'stroke-width': 2.5});


scaleKm.forEach(v => {
  const top = v % 200 === 0 ? 1239 : 1249;
  const t = mk(sb, 'line', {x1: kmX(v), x2: kmX(v), y1: 1273, y2: top, stroke: '#444', 'stroke-width': 2});
  
  
});
</script>
</svg>
</body>
</html>
